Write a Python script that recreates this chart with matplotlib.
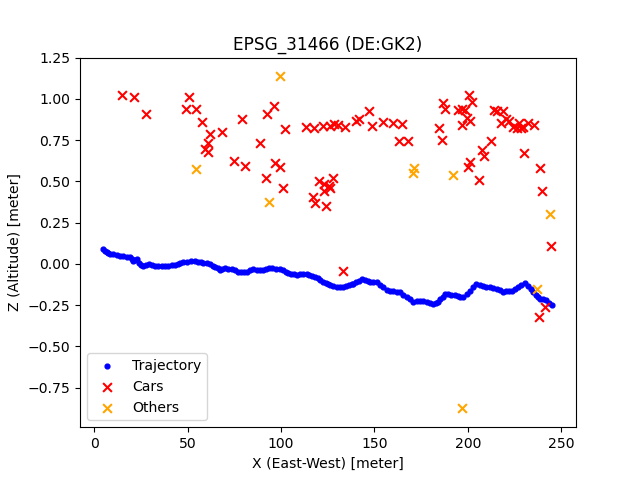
import matplotlib
matplotlib.use("Agg")
import matplotlib.pyplot as plt

# trajectory
traj_x = [4.9, 5.7, 6.7, 7.5, 8.4, 9.9, 12.0, 13.7, 15.5, 17.3, 19.1, 20.0, 20.9, 21.9, 23.0, 24.1, 25.1, 26.3,
          27.8, 29.3, 30.9, 32.5, 34.3, 36.1, 37.9, 39.6, 41.4, 43.2, 44.6, 46.1, 47.6, 49.6, 51.8, 53.9, 55.4,
          56.9, 58.4, 60.1, 61.9, 63.3, 64.6, 66.0, 67.3, 68.6, 69.9, 71.7, 73.6, 75.4, 77.2, 78.7, 80.2, 81.6,
          83.4, 85.2, 87.0, 88.7, 90.5, 92.0, 93.5, 95.4, 97.5, 99.4, 100.9, 102.4, 103.9, 105.4, 106.8, 108.3,
          110.1, 111.9, 113.7, 115.2, 116.6, 118.1, 119.6, 121.0, 122.6, 123.8, 125.0, 126.2, 128.0, 129.8,
          131.5, 133.3, 134.8, 136.3, 137.8, 138.6, 140.2, 141.8, 143.5, 144.9, 146.3, 147.6, 149.4, 151.1,
          152.9, 154.7, 156.5, 158.3, 160.0, 161.8, 163.6, 165.4, 167.2, 169.0, 170.8, 172.6, 174.4, 176.2,
          177.9, 179.7, 181.5, 182.8, 184.1, 185.3, 186.6, 187.7, 189.5, 191.2, 193.1, 194.6, 196.0, 197.5,
          199.3, 201.0, 202.8, 204.6, 206.4, 208.1, 209.9, 211.7, 213.5, 215.4, 217.1, 218.9, 220.4, 221.9,
          223.4, 225.2, 226.9, 228.7, 230.5, 232.0, 233.6, 235.1, 236.7, 237.6, 238.5, 240.4, 242.1, 243.4, 244.8]
traj_y = [0.089, 0.080, 0.069, 0.063, 0.059, 0.057, 0.055, 0.050, 0.045, 0.043, 0.041, 0.030, 0.020, 0.024, 0.029,
          0.004, -0.005, -0.012, -0.006, 0.000, -0.005, -0.010, -0.013, -0.016, -0.014, -0.012, -0.008, -0.004,
          0.000, 0.005, 0.010, 0.012, 0.015, 0.018, 0.014, 0.010, 0.006, 0.003, 0.000, -0.010, -0.019, -0.028,
          -0.036, -0.032, -0.028, -0.031, -0.033, -0.036, -0.050, -0.049, -0.048, -0.048, -0.040, -0.032, -0.035,
          -0.037, -0.040, -0.033, -0.026, -0.028, -0.030, -0.032, -0.040, -0.048, -0.056, -0.059, -0.062, -0.065,
          -0.064, -0.064, -0.063, -0.068, -0.072, -0.077, -0.087, -0.097, -0.107, -0.115, -0.124, -0.131, -0.137,
          -0.138, -0.138, -0.138, -0.134, -0.130, -0.125, -0.121, -0.112, -0.103, -0.093, -0.098, -0.103, -0.107,
          -0.110, -0.113, -0.128, -0.143, -0.158, -0.162, -0.165, -0.169, -0.172, -0.186, -0.200, -0.215, -0.229,
          -0.227, -0.223, -0.228, -0.234, -0.240, -0.245, -0.238, -0.229, -0.215, -0.200, -0.184, -0.185, -0.187,
          -0.188, -0.193, -0.198, -0.202, -0.183, -0.163, -0.143, -0.123, -0.128, -0.133, -0.138, -0.142, -0.148,
          -0.155, -0.161, -0.168, -0.166, -0.164, -0.162, -0.151, -0.140, -0.128, -0.117, -0.135, -0.153, -0.170,
          -0.188, -0.200, -0.210, -0.215, -0.219, -0.235, -0.249]

cars_x = [15.0, 21.4, 27.9, 50.9, 49.2, 54.6, 57.8, 62.1, 68.5, 61.0, 59.4, 61.0, 79.2, 96.4, 92.6, 102.3, 88.8,
          75.0, 80.9, 96.9, 99.6, 92.0, 101.2, 113.2, 117.6, 122.6, 120.4, 123.2, 117.2, 118.3, 123.2, 124.2,
          125.8, 127.8, 126.2, 126.0, 128.2, 130.3, 134.4, 147.3, 140.2, 141.8, 148.9, 154.7, 160.0,
          164.8, 163.2, 168.1, 184.6, 186.3, 186.8, 187.9, 194.9, 197.0, 198.7, 200.7, 202.4, 197.0, 201.3,
          199.7, 212.5, 207.7, 208.7, 201.3, 200.2, 206.1, 230.2, 238.8, 239.9, 213.9, 215.8, 219.0, 217.9,
          220.6, 222.2, 224.3, 226.4, 227.5, 228.6, 229.6, 232.3, 235.2, 244.3, 133.3, 238.0, 241.5]
cars_y = [1.024, 1.011, 0.908, 1.011, 0.938, 0.938, 0.859, 0.787, 0.799, 0.732, 0.698, 0.675, 0.878, 0.957, 0.908,
          0.817, 0.732, 0.623, 0.593, 0.611, 0.587, 0.520, 0.459, 0.829, 0.823, 0.835, 0.502, 0.484, 0.405, 0.368,
          0.441, 0.350, 0.469, 0.520, 0.459, 0.835, 0.850, 0.840, 0.830, 0.928, 0.868, 0.878, 0.835, 0.859,
          0.853, 0.847, 0.744, 0.744, 0.823, 0.750, 0.975, 0.938, 0.932, 0.938, 0.932, 1.024, 0.981, 0.841, 0.866,
          0.884, 0.744, 0.690, 0.654, 0.617, 0.587, 0.508, 0.672, 0.581, 0.441, 0.932, 0.926, 0.926, 0.854, 0.878,
          0.866, 0.829, 0.823, 0.854, 0.823, 0.829, 0.854, 0.841, 0.109, -0.044, -0.320, -0.263]

others_x = [99.6, 54.6, 93.6, 171.3, 170.8, 192.2, 244.1, 237.1, 196.9]
others_y = [1.139, 0.575, 0.374, 0.581, 0.550, 0.538, 0.302, -0.154, -0.875]

plt.rcParams["font.size"] = 10.1

plt.figure()
plt.scatter(traj_x, traj_y, s=12, c="blue", label="Trajectory")
plt.scatter(cars_x, cars_y, s=40, c="red", marker="x", label="Cars")
plt.scatter(others_x, others_y, s=40, c="orange", marker="x", label="Others")
plt.title("EPSG_31466 (DE:GK2)")
plt.xlabel("X (East-West) [meter]")
plt.ylabel("Z (Altitude) [meter]")
plt.xlim(-7.65, 257.9)
plt.ylim(-0.99, 1.25)
plt.legend(loc="lower left")
plt.savefig("out.png")
plt.close()
